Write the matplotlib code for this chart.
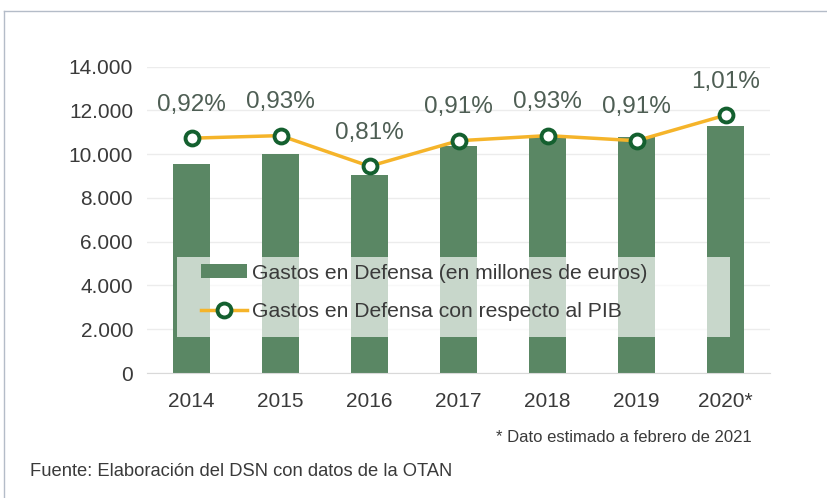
import matplotlib.pyplot as plt
from matplotlib.patches import Rectangle
from matplotlib.ticker import FuncFormatter

plt.rcParams["font.family"] = ["Liberation Sans", "DejaVu Sans"]

years = ["2014", "2015", "2016", "2017", "2018", "2019", "2020*"]
gasto = [9550, 10000, 9030, 10380, 10880, 10780, 11270]
pib = [0.92, 0.93, 0.81, 0.91, 0.93, 0.91, 1.01]
pib_labels = ["0,92%", "0,93%", "0,81%", "0,91%", "0,93%", "0,91%", "1,01%"]

bar_color = "#5a8764"
line_color = "#f5b42a"
marker_edge = "#14602f"
label_color = "#4e5e54"
text_color = "#3a3a3a"

fig = plt.figure(figsize=(8.27, 4.98), dpi=100)
ax = fig.add_axes([147 / 827, 1 - 373 / 498, 623 / 827, 306.3 / 498])

x = list(range(len(years)))
ax.bar(x, gasto, width=0.41, color=bar_color, zorder=2,
       label="Gastos en Defensa (en millones de euros)")
ax.set_xlim(-0.5, 6.5)
ax.set_ylim(0, 14000)
ax.set_yticks(range(0, 14001, 2000))
ax.yaxis.set_major_formatter(FuncFormatter(lambda v, p: f"{int(v):,}".replace(",", ".")))
ax.set_xticks(x)
ax.set_xticklabels(years)
ax.grid(axis="y", color="#ececec", linewidth=1, zorder=0)
ax.set_axisbelow(True)
for s in ["top", "right", "left"]:
    ax.spines[s].set_visible(False)
ax.spines["bottom"].set_color("#d9d9d9")
ax.tick_params(axis="both", length=0, labelsize=15, colors=text_color)
ax.tick_params(axis="y", pad=10)
ax.tick_params(axis="x", pad=14)

ax2 = ax.twinx()
ax2.set_ylim(0, 1.2)
ax2.axis("off")
ln, = ax2.plot(x, pib, color=line_color, linewidth=2.5, marker="o", markersize=10,
               markerfacecolor="white", markeredgecolor=marker_edge, markeredgewidth=2.8,
               zorder=4, label="Gastos en Defensa con respecto al PIB")
for xi, v, t in zip(x, pib, pib_labels):
    ax2.annotate(t, (xi, v), xytext=(0, 24), textcoords="offset points",
                 ha="center", va="center", fontsize=17.5, color=label_color)

# light panel behind the legend
fig.add_artist(Rectangle((177 / 827, 1 - 337 / 498), 553 / 827, 80 / 498,
                         transform=fig.transFigure, facecolor="white", alpha=0.67,
                         edgecolor="none", zorder=3))
h1, l1 = ax.get_legend_handles_labels()
leg = fig.legend(h1 + [ln], l1 + [ln.get_label()], loc="center left",
                 bbox_to_anchor=(201 / 827, 1 - 292.5 / 498), frameon=False,
                 fontsize=15.2, handlelength=2.2, handletextpad=0.22, labelspacing=0.94,
                 handleheight=0.6, borderpad=0, borderaxespad=0)
leg.set_zorder(6)
for t in leg.get_texts():
    t.set_color(text_color)

fig.text(752 / 827, 1 - 437 / 498, "* Dato estimado a febrero de 2021", ha="right",
         va="center", fontsize=12, color=text_color)
fig.text(30 / 827, 1 - 471 / 498, "Fuente: Elaboración del DSN con datos de la OTAN",
         ha="left", va="center", fontsize=13.2, color=text_color)

# outer frame
fig.add_artist(plt.Line2D([4 / 827, 4 / 827], [0, 1 - 11 / 498], transform=fig.transFigure,
                          color="#b4bcc8", linewidth=1))
fig.add_artist(plt.Line2D([4 / 827, 1], [1 - 11 / 498, 1 - 11 / 498], transform=fig.transFigure,
                          color="#b4bcc8", linewidth=1))

fig.savefig("out.png", dpi=100)
